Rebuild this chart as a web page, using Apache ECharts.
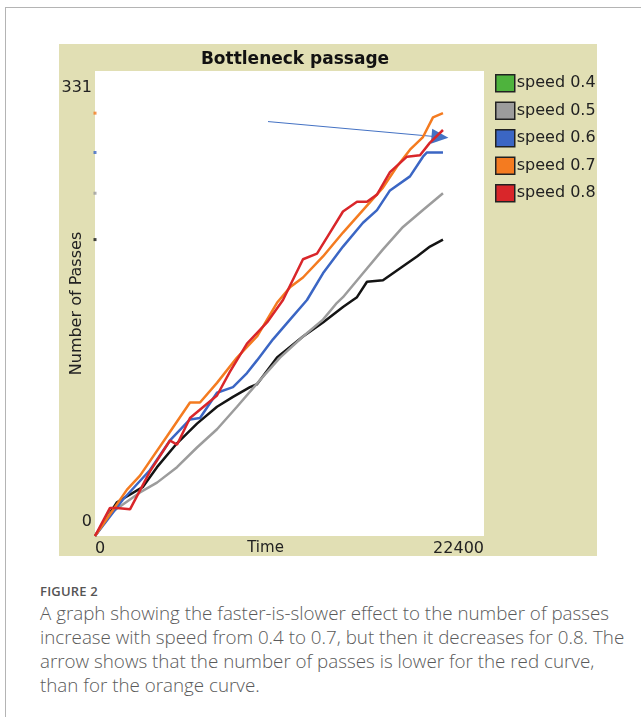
<!DOCTYPE html>
<html>
<head>
<meta charset="utf-8">
<script src="https://cdn.jsdelivr.net/npm/echarts@6/dist/echarts.min.js"></script>
<style>
html,body{margin:0;padding:0;background:#fff;width:641px;height:717px;overflow:hidden;}
#frame{position:absolute;left:5px;top:7px;width:650px;height:720px;border-top:1px solid #b4b4b4;border-left:1px solid #b4b4b4;}
#chart{position:absolute;left:0;top:0;width:641px;height:570px;}
#cap{position:absolute;left:40px;top:581px;width:600px;font-family:"Open Sans",sans-serif;color:#555;}
#cap .fig{font-size:13px;font-weight:600;letter-spacing:0.2px;line-height:20px;color:#555;}
#cap .txt{font-size:18.8px;line-height:24px;font-weight:300;color:#5a5a5a;white-space:nowrap;}
</style>
</head>
<body>
<div id="frame"></div>
<div id="chart"></div>
<div id="cap">
<div class="fig">FIGURE 2</div>
<div class="txt">A graph showing the faster-is-slower effect to the number of passes<br>increase with speed from 0.4 to 0.7, but then it decreases for 0.8. The<br>arrow shows that the number of passes is lower for the red curve,<br>than for the orange curve.</div>
</div>
<script>
// ---- data (time, number of passes) ----
const title = 'Bottleneck passage';
const xTicks = [0, 22400];
const yTicks = [0, 331];
const seriesNames = ['speed 0.4', 'speed 0.5', 'speed 0.6', 'speed 0.7', 'speed 0.8'];

const speed04 = [[0,0],[1267,24],[2764,35],[3570,49],[4722,66],[5873,80],[7025,92],[7946,99],[8925,106],[9328,108],[10480,127],[11977,142],[13128,152],[14280,163],[14856,168],[15086,170],[15662,181],[16583,182],[17735,192],[18541,199],[19289,206],[20038,211]];
const speed05 = [[0,0],[864,16],[2591,31],[3570,38],[4722,49],[5873,63],[7025,76],[8176,92],[9501,111],[10652,127],[11977,142],[13128,154],[13934,166],[14280,170],[15431,187],[16583,204],[17735,220],[18886,232],[20038,244]];
const speed06 = [[0,0],[1612,26],[3167,47],[4318,68],[5470,83],[6046,84],[7025,102],[7946,106],[8752,116],[9328,125],[10249,140],[11228,154],[12207,168],[13128,187],[14280,206],[15431,223],[16238,232],[16986,246],[18138,256],[18886,270],[19117,273],[20038,273]];
const speed07 = [[0,0],[1843,33],[2591,43],[4146,71],[5470,95],[6046,95],[7025,109],[8176,127],[9328,142],[10480,166],[11228,177],[11977,184],[13128,199],[14280,216],[15431,232],[16583,248],[17389,263],[18138,275],[18886,284],[19462,298],[20038,301]];
const speed08 = [[0,0],[864,20],[1267,20],[2015,19],[3167,46],[4318,68],[4722,65],[5470,84],[7025,100],[7773,117],[8752,137],[9904,152],[10825,168],[11977,197],[12783,201],[13531,216],[14280,231],[15086,238],[15662,238],[16238,243],[16986,259],[17965,270],[18714,271],[19289,280],[20038,289]];

// annotation arrow (time, passes): from -> to
const arrowFromTo = [[9962, 295], [19865, 284]];

// ---- styles ----
const lineColors = ['#141414', '#9c9c9c', '#3b66c4', '#f47b20', '#d9262a'];
const legendColors = ['#4eb33d', '#9c9c9c', '#3b66c4', '#f47b20', '#d9262a'];
const seriesData = [speed04, speed05, speed06, speed07, speed08];
const LABEL_FONT = 'DejaVu Sans';

const chart = echarts.init(document.getElementById('chart'), null, {renderer: 'canvas'});

const series = seriesNames.map((name, i) => ({
  name: name,
  type: 'line',
  data: seriesData[i],
  showSymbol: false,
  symbol: 'none',
  lineStyle: {color: lineColors[i], width: 2.5},
  itemStyle: {color: legendColors[i]},
  animation: false,
  z: 3 + i
}));

// final-value dots on the left edge
const dotIdx = [3, 2, 1, 0];
series.push({
  type: 'scatter',
  silent: true,
  symbolSize: 3,
  symbol: 'rect',
  animation: false,
  data: dotIdx.map(i => ({value: [0, seriesData[i][seriesData[i].length - 1][1]], itemStyle: {color: lineColors[i]}})),
  z: 10
});

// arrow
series.push({
  type: 'line',
  data: [],
  silent: true,
  animation: false,
  markLine: {
    silent: true,
    animation: false,
    symbol: ['none', 'triangle'],
    symbolSize: [15, 17],
    label: {show: false},
    lineStyle: {color: '#4472c4', width: 1, type: 'solid'},
    itemStyle: {color: '#4472c4'},
    data: [[{coord: arrowFromTo[0]}, {coord: arrowFromTo[1]}]]
  },
  z: 20
});

chart.setOption({
  backgroundColor: 'transparent',
  animation: false,
  graphic: [{
    type: 'rect',
    shape: {x: 59, y: 44, width: 538, height: 512},
    style: {fill: '#e1dfb4'},
    z: -10, silent: true
  }],
  title: {
    text: title,
    left: 290, top: 46, textAlign: 'center',
    textStyle: {fontFamily: LABEL_FONT, fontWeight: 'bold', fontSize: 17, color: '#111'}
  },
  legend: {
    orient: 'vertical',
    left: 490, top: 69,
    icon: 'rect',
    itemWidth: 19, itemHeight: 17, itemGap: 9,
    itemStyle: {borderColor: '#222', borderWidth: 1.5},
    textStyle: {fontFamily: LABEL_FONT, fontSize: 16, color: '#222', padding: [0, 0, 0, -3]},
    data: seriesNames.map((n, i) => ({name: n, itemStyle: {color: legendColors[i]}})),
    selectedMode: false
  },
  grid: {
    left: 95, top: 71, width: 389, height: 465,
    containLabel: false, outerBoundsMode: 'none',
    show: true, backgroundColor: '#fff', borderWidth: 0
  },
  xAxis: {
    type: 'value', min: xTicks[0], max: xTicks[1],
    name: 'Time', nameLocation: 'middle', nameGap: 5, nameMoveOverlap: false,
    nameTextStyle: {fontFamily: LABEL_FONT, fontSize: 15, color: '#222', verticalAlign: 'top', padding: [0, 48, 0, 0]},
    axisLine: {show: false}, axisTick: {show: false}, splitLine: {show: false},
    axisLabel: {
      customValues: xTicks, showMinLabel: true, showMaxLabel: true,
      alignMinLabel: 'left', alignMaxLabel: 'right',
      formatter: v => String(v),
      margin: 5, fontFamily: LABEL_FONT, fontSize: 16, color: '#222'
    }
  },
  yAxis: {
    type: 'value', min: yTicks[0], max: yTicks[1],
    name: 'Number of Passes', nameLocation: 'middle', nameRotate: 90, nameGap: 10, nameMoveOverlap: false,
    nameTextStyle: {fontFamily: LABEL_FONT, fontSize: 16, color: '#222'},
    axisLine: {show: false}, axisTick: {show: false}, splitLine: {show: false},
    axisLabel: {
      customValues: yTicks, showMinLabel: true, showMaxLabel: true,
      margin: 3, fontFamily: LABEL_FONT, fontSize: 16, color: '#222',
      formatter: v => (v === yTicks[1] ? '{t|' + v + '}' : '{b|' + v + '}'),
      rich: {
        t: {fontFamily: LABEL_FONT, fontSize: 16, color: '#222', padding: [34, 0, 0, 0]},
        b: {fontFamily: LABEL_FONT, fontSize: 16, color: '#222', padding: [0, 0, 28, 0]}
      }
    }
  },
  series: series
});
</script>
</body>
</html>
